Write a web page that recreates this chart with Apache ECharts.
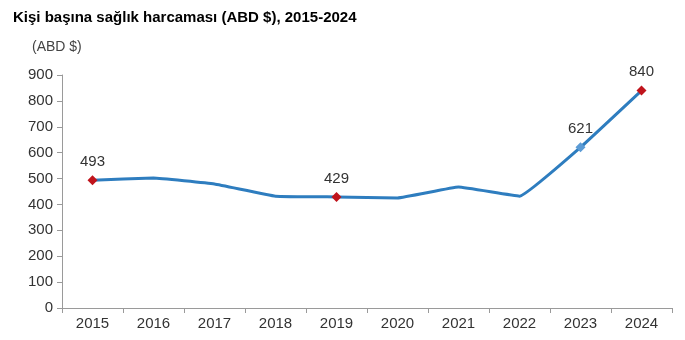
<!DOCTYPE html>
<html><head><meta charset="utf-8">
<script src="https://cdn.jsdelivr.net/npm/echarts@6/dist/echarts.min.js"></script>
<style>html,body{margin:0;padding:0;background:#fff}#c{width:685px;height:340px}</style>
</head><body><div id="c"></div>
<script>
const years = ['2015','2016','2017','2018','2019','2020','2021','2022','2023','2024'];
const values = [493, 502, 479, 432, 429, 425, 467, 432, 621, 840];
const labelled = ['2015','2019','2023','2024'];
const highlightBlue = ['2023'];
const yTicks = {min: 0, max: 900, interval: 100};

const data = values.map((v, i) => {
  const y = years[i];
  const item = {value: v};
  if (labelled.includes(y)) {
    item.symbol = 'diamond';
    item.symbolSize = 10;
    item.itemStyle = {color: highlightBlue.includes(y) ? '#5b9bd5' : '#c0141c'};
    item.label = {show: true, position: 'top', distance: 6, color: '#333', fontSize: 15, fontFamily: 'Liberation Sans, Arial'};
  } else {
    item.symbol = 'none';
  }
  return item;
});

const chart = echarts.init(document.getElementById('c'));
chart.setOption({
  animation: false,
  backgroundColor: '#fff',
  title: {text: 'Kişi başına sağlık harcaması (ABD $), 2015-2024', left: 8, top: 5,
    textStyle: {fontFamily: 'Liberation Sans, Arial', fontWeight: 'bold', fontSize: 15, color: '#000'}},
  graphic: [{type: 'text', left: 32, top: 40, style: {text: '(ABD $)', font: '14px Liberation Sans, Arial', fill: '#444'}}],
  grid: {left: 62, right: 13, top: 75, bottom: 32, containLabel: false},
  xAxis: {type: 'category', data: years, boundaryGap: true,
    axisLine: {lineStyle: {color: '#9a9a9a', width: 1}},
    axisTick: {show: true, alignWithLabel: false, length: 5, lineStyle: {color: '#9a9a9a'}},
    axisLabel: {color: '#333', fontSize: 15, fontFamily: 'Liberation Sans, Arial', margin: 8}},
  yAxis: {type: 'value', min: yTicks.min, max: yTicks.max, interval: yTicks.interval,
    axisLine: {show: true, lineStyle: {color: '#9a9a9a', width: 1}},
    axisTick: {show: true, length: 5, lineStyle: {color: '#9a9a9a'}},
    splitLine: {show: false},
    axisLabel: {color: '#333', fontSize: 15, fontFamily: 'Liberation Sans, Arial', margin: 9}},
  series: [{type: 'line', data: data, smooth: 0.08, showSymbol: true,
    lineStyle: {color: '#2e7dbf', width: 3}, itemStyle: {color: '#2e7dbf'}}]
});
</script></body></html>
